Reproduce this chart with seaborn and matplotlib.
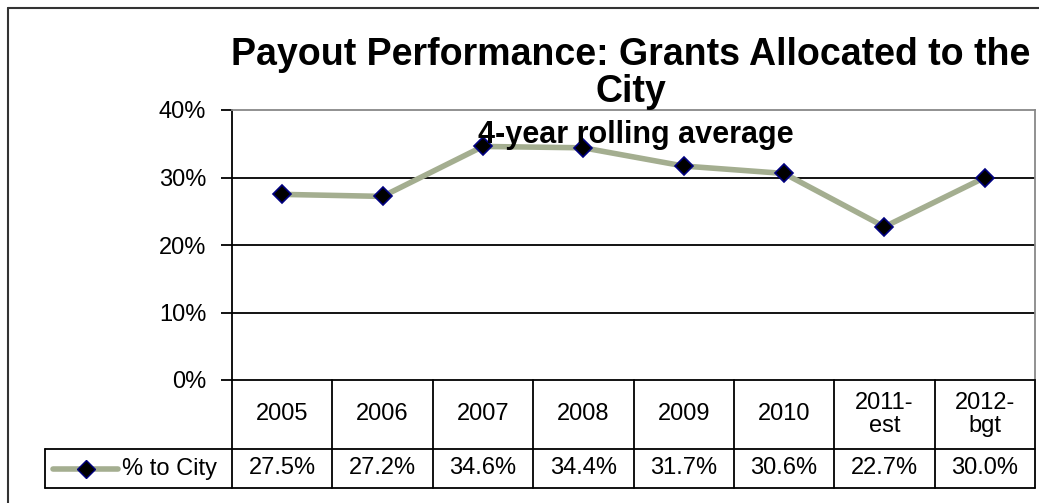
import matplotlib.pyplot as plt
import matplotlib.transforms as mtransforms
from matplotlib.lines import Line2D
import pandas as pd
import seaborn as sns

# data
years = ['2005', '2006', '2007', '2008', '2009', '2010', '2011-\nest', '2012-\nbgt']
pct_to_city = [27.5, 27.2, 34.6, 34.4, 31.7, 30.6, 22.7, 30.0]
series_name = '% to City'
y_ticks = [0, 10, 20, 30, 40]

line_color = '#a4ae90'
marker_face = '#000000'
marker_edge = '#000080'

sns.set_style('white')
plt.rcParams['font.family'] = ['Liberation Sans', 'DejaVu Sans']
plt.rcParams['text.color'] = 'black'
plt.rcParams['ytick.labelcolor'] = 'black'

W, H = 1039, 503
fig = plt.figure(figsize=(W / 100, H / 100), dpi=100)
ax = fig.add_axes([232 / W, 123 / H, 803 / W, 270 / H])

df = pd.DataFrame({'pos': range(len(years)), 'pct': pct_to_city})
sns.lineplot(data=df, x='pos', y='pct', ax=ax, color=line_color, lw=4,
             marker='D', markersize=9.5, markerfacecolor=marker_face,
             markeredgecolor=marker_edge, markeredgewidth=1.2, zorder=3)

ax.set_xlim(-0.5, len(years) - 0.5)
ax.set_ylim(0, 40)
ax.set_xticks([])
ax.set_yticks(y_ticks)
ax.set_yticklabels(['{}%'.format(v) for v in y_ticks])
ax.tick_params(axis='y', left=True, length=8, width=1.3, direction='out',
               pad=10.5, labelsize=17, color='black', labelcolor='black')
ax.set_xlabel('')
ax.set_ylabel('')
for v in y_ticks[1:-1]:
    ax.axhline(v, color='black', lw=1.3, zorder=1)
ax.spines['left'].set_color('black')
ax.spines['bottom'].set_color('black')
ax.spines['top'].set_color('#888888')
ax.spines['right'].set_color('#888888')
for s in ax.spines.values():
    s.set_linewidth(1.3)

# data table under the plot
trans = mtransforms.blended_transform_factory(ax.transData, ax.transAxes)
col_w = 803 / len(years)
hdr_h = 69 / 270
val_h = 39 / 270
leg_left = -0.5 - 187 / col_w
n = len(years)
lk = dict(color='black', lw=1.3, transform=trans, clip_on=False)
for i in range(n + 1):
    ax.add_line(Line2D([i - 0.5, i - 0.5], [0, -hdr_h - val_h], **lk))
ax.add_line(Line2D([leg_left, leg_left], [-hdr_h, -hdr_h - val_h], **lk))
ax.add_line(Line2D([leg_left, n - 0.5], [-hdr_h, -hdr_h], **lk))
ax.add_line(Line2D([leg_left, n - 0.5], [-hdr_h - val_h, -hdr_h - val_h], **lk))

for i, (yr, v) in enumerate(zip(years, pct_to_city)):
    ax.text(i, -hdr_h / 2, yr, transform=trans, ha='center', va='center',
            fontsize=17, linespacing=1.1)
    ax.text(i, -hdr_h - val_h / 2, '{:.1f}%'.format(v), transform=trans,
            ha='center', va='center', fontsize=17)

# legend key in the table
ly = -hdr_h - val_h / 2
lx0 = leg_left + (53 - 45) / col_w
lx1 = leg_left + (118 - 45) / col_w
ax.add_line(Line2D([lx0, lx1], [ly, ly], color=line_color, lw=4,
                   transform=trans, clip_on=False))
ax.add_line(Line2D([(lx0 + lx1) / 2], [ly], marker='D', markersize=9.5,
                   markerfacecolor=marker_face, markeredgecolor=marker_edge,
                   transform=trans, clip_on=False))
ax.text(leg_left + (122 - 45) / col_w, ly, series_name, transform=trans,
        ha='left', va='center', fontsize=17)

# titles
fig.text(631 / W, 1 - 65 / H, 'Payout Performance: Grants Allocated to the',
         ha='center', va='baseline', fontsize=27, fontweight='bold')
fig.text(631 / W, 1 - 102 / H, 'City', ha='center', va='baseline',
         fontsize=27, fontweight='bold')
fig.text(636 / W, 1 - 143 / H, '4-year rolling average', ha='center',
         va='baseline', fontsize=22, fontweight='bold')

# outer chart frame
fig.add_artist(Line2D([8 / W, 8 / W], [0, 1 - 8 / H], color='#333333', lw=1.5))
fig.add_artist(Line2D([8 / W, 1], [1 - 8 / H, 1 - 8 / H], color='#333333', lw=1.5))

fig.savefig('out.png', dpi=100)
